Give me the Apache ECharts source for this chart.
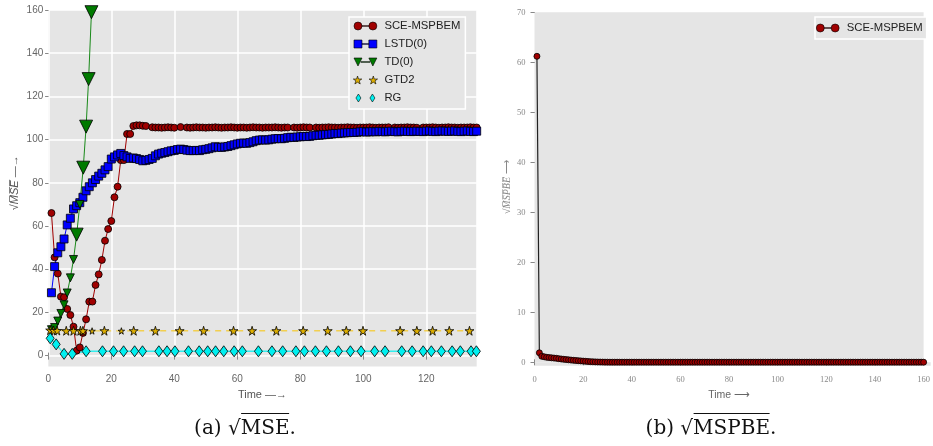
<!DOCTYPE html>
<html>
<head>
<meta charset="utf-8">
<script src="https://cdn.jsdelivr.net/npm/echarts@6/dist/echarts.min.js"></script>
<style>
html,body{margin:0;padding:0;background:#fff;}
#wrap{position:relative;width:933px;height:446px;overflow:hidden;}
#chart{width:933px;height:446px;}
.cap{position:absolute;top:415px;font-family:"DejaVu Serif",serif;font-size:20px;line-height:24px;color:#111;white-space:nowrap;transform:translateX(-50%);}
.ol{border-top:1px solid #111;padding-top:1px;}
</style>
</head>
<body>
<div id="wrap">
  <div id="chart"></div>
  <div class="cap" style="left:245px">(a) √<span class="ol">MSE</span>.</div>
  <div class="cap" style="left:711px">(b) √<span class="ol">MSPBE</span>.</div>
</div>
<script>
// left panel: sqrt(MSE) against time
var sceT = [1,2,3,4,5,6,7,8,9,10,11,12,13,14,15,16,17,18,19,20,21,22,23,24,25,26,27,28,29,30,31,
  33,34,35,36,37,38,39,40,42,44,45,46,47,48,49,50,51,52,53,54,55,56,57,58,59,60,61,62,63,64,65,66,67,68,69,70,
  71,72,73,74,75,76,78,79,80,81,82,83,85,86,87,88,89,90,91,92,93,94,95,96,97,98,99,100,101,102,103,104,105,106,107,108,
  110,111,112,113,114,115,116,117,119,120,121,122,123,124,125,126,127,128,129,130,131,132,133,134,135,136];
var sceV = [66,45.5,38,27.3,27,21.6,18.8,13.4,2.3,3.8,10.5,16.8,25,25,32.7,37.6,44.3,53.2,58.6,62.3,73.3,78.2,90.5,90.5,102.6,102.6,106.3,106.6,106.6,106.4,106.3,
  105.7,105.6,105.6,105.5,105.6,105.7,105.6,105.5,105.8,105.6,105.5,105.6,105.7,105.6,105.6,105.5,105.6,105.6,105.7,105.6,105.5,105.6,105.6,105.7,105.6,105.5,105.6,105.6,105.5,105.6,105.7,105.6,105.6,105.5,105.6,105.6,
  105.6,105.7,105.6,105.5,105.6,105.6,105.6,105.5,105.6,105.7,105.6,105.6,105.6,105.5,105.6,105.6,105.7,105.6,105.6,105.5,105.6,105.6,105.7,105.6,105.6,105.5,105.6,105.6,105.6,105.7,105.6,105.5,105.6,105.6,105.6,105.7,
  105.6,105.5,105.6,105.6,105.7,105.6,105.6,105.5,105.6,105.6,105.6,105.7,105.6,105.5,105.6,105.6,105.7,105.6,105.6,105.5,105.6,105.6,105.6,105.7,105.6,105.6];

// LSTD(0), one value per time step 1..136
var lstdV = [29.1,41.2,47.6,50.4,54.0,60.5,63.6,67.9,69.4,70.8,73.3,76.3,78.2,80.0,81.5,83.1,84.4,86.0,87.5,91.0,
  92.0,92.9,93.6,92.6,92.0,91.3,91.5,91.2,90.8,90.2,90.4,90.8,91.3,92.5,93.3,93.7,94.0,94.4,94.8,95.0,
  95.4,95.6,95.4,95.1,94.9,94.9,95.0,94.9,95.3,95.5,95.8,96.2,96.7,96.5,96.4,96.6,96.8,97.2,97.6,98.0,
  98.3,98.4,98.3,98.6,99.0,99.5,99.8,99.9,99.8,99.9,100.2,100.4,100.5,100.4,100.6,100.9,101.1,101.0,101.2,101.3,
  101.5,101.4,101.5,101.8,102.0,102.0,102.2,102.3,102.4,102.6,102.8,102.8,103.0,103.1,103.2,103.3,103.3,103.4,103.6,103.7,
  103.5,103.6,103.7,103.6,103.8,103.7,103.6,103.8,103.9,103.7,103.6,103.8,103.9,103.8,103.7,103.8,103.9,103.8,103.7,103.9,
  104.0,103.8,103.7,103.9,104.0,103.9,103.8,103.9,104.0,103.8,103.7,103.9,104.0,103.8,103.7,103.9];

var tdT = [1,2,3,4,5,6,7,8,9,10,11.1,12,12.8,13.7];
var tdV = [12,13,16,19.5,23.5,29,36,44.5,56,70,87,106,128,159];

var gtdT = [0.6,1.7,2.8,5.7,8,10.2,11,13.9,17.8,23.2,27.1,34,41.7,49.3,58.8,64.7,72.4,80.9,88.7,94.6,99.9,111.7,117,122,127.3,133.7];
var gtdV = [11.8,11.6,11.6,11.5,11.5,11.5,11.5,11.4,11.5,11.4,11.5,11.5,11.5,11.5,11.5,11.5,11.5,11.5,11.5,11.5,11.5,11.5,11.5,11.5,11.5,11.5];

var rgT = [0.6,2.5,5,7.6,12,17.2,20.7,23.9,27.4,29.9,35.1,37.7,40.2,44.5,47.9,50.6,53.1,55.7,59,61.6,66.7,71,74.4,78.6,81.3,84.8,
  88.3,92.1,95.9,99.3,103.6,106.9,112.2,115.5,119,121.6,124.8,128.2,130.8,134.2,135.9];
var rgV = [8,5.2,0.8,0.8,2,2,2,2,2,2,2,2,2,2,2,2,2,2,2,2,2,2,2,2,2,2,2,2,2,2,2,2,2,2,2,2,2,2,2,2,2];

// right panel: sqrt(MSPBE), one value per time step 1..160
var mspbeV = [61.2,1.9,1.2,1.1,1.0,0.95,0.9,0.85,0.8,0.72,0.66,0.6,0.55,0.5,0.45,0.4,0.36,0.32,0.28,0.24,
  0.2,0.16,0.13,0.1,0.08,0.06,0.05,0.04,0.03,0.03,
  0.02,0.02,0.02,0.02,0.02,0.02,0.02,0.02,0.02,0.02,
  0.02,0.02,0.02,0.02,0.02,0.02,0.02,0.02,0.02,0.02,
  0.02,0.02,0.02,0.02,0.02,0.02,0.02,0.02,0.02,0.02,
  0.02,0.02,0.02,0.02,0.02,0.02,0.02,0.02,0.02,0.02,
  0.02,0.02,0.02,0.02,0.02,0.02,0.02,0.02,0.02,0.02,
  0.02,0.02,0.02,0.02,0.02,0.02,0.02,0.02,0.02,0.02,
  0.02,0.02,0.02,0.02,0.02,0.02,0.02,0.02,0.02,0.02,
  0.02,0.02,0.02,0.02,0.02,0.02,0.02,0.02,0.02,0.02,
  0.02,0.02,0.02,0.02,0.02,0.02,0.02,0.02,0.02,0.02,
  0.02,0.02,0.02,0.02,0.02,0.02,0.02,0.02,0.02,0.02,
  0.02,0.02,0.02,0.02,0.02,0.02,0.02,0.02,0.02,0.02,
  0.02,0.02,0.02,0.02,0.02,0.02,0.02,0.02,0.02,0.02,
  0.02,0.02,0.02,0.02,0.02,0.02,0.02,0.02,0.02,0.02];

var xTicksL = {min:0, max:136, interval:20};
var yTicksL = {min:0, max:160, interval:20};
var xTicksR = {min:0, max:160, interval:20};
var yTicksR = {min:0, max:70, interval:10};

var GRAY = '#e5e5e5';
var starPath = 'path://M50,0L61,35L98,35L68,57L79,91L50,70L21,91L32,57L2,35L39,35Z';
var icons = {
  circ: 'path://M0,4A3.5,3.5,0,1,0,7,4A3.5,3.5,0,1,0,0,4ZM13,4A3.5,3.5,0,1,0,20,4A3.5,3.5,0,1,0,13,4ZM7,3.8H13V4.2H7Z',
  sq: 'path://M0,0.5H7V7.5H0ZM13,0.5H20V7.5H13ZM7,3.8H13V4.2H7Z',
  tri: 'path://M0,0.5H7L3.5,7.5ZM13,0.5H20L16.5,7.5ZM6,3.8H14V4.2H6Z',
  star: 'path://M3.5,0L4.3,2.5L7,2.5L4.9,4L5.7,6.6L3.5,5.1L1.3,6.6L2.1,4L0,2.5L2.7,2.5ZM16.5,0L17.3,2.5L20,2.5L17.9,4L18.7,6.6L16.5,5.1L14.3,6.6L15.1,4L13,2.5L15.7,2.5Z',
  dia: 'path://M3,0L5.5,4L3,8L0.5,4ZM17,0L19.5,4L17,8L14.5,4Z'
};
var legIcon = {borderWidth:0.6};

var gl = {left:48.3, top:10, width:428.4, height:345.6};
var gr = {left:534.5, top:12.3, width:396.2, height:350};

var sansLbl = {color:'#666', fontSize:10, fontFamily:'Liberation Sans'};
var serifLbl = {color:'#888', fontSize:8.5, fontFamily:'Liberation Serif'};
var tickL = {lineStyle:{color:'#888'}, length:3};

var myChart = echarts.init(document.getElementById('chart'));
var option = {
  animation: false,
  grid: [
    {left:gl.left, top:gl.top, width:gl.width, height:gl.height, show:true, backgroundColor:GRAY, borderWidth:0},
    {left:gr.left, top:gr.top, width:gr.width, height:gr.height, show:true, backgroundColor:GRAY, borderWidth:0}
  ],
  graphic: [
    {type:'rect', z:-10, silent:true, shape:{x:gl.left, y:gl.top + gl.height, width:gl.width, height:11}, style:{fill:GRAY}},
    {type:'rect', z:-10, silent:true, shape:{x:gr.left, y:gr.top + gr.height, width:gr.width, height:3.4}, style:{fill:GRAY}}
  ],
  legend: [
    {
      left:349, top:17, orient:'vertical', padding:[2,5,4,4], itemGap:4,
      itemWidth:28, itemHeight:8, backgroundColor:GRAY, borderColor:'#fff', borderWidth:1.5,
      textStyle:{fontFamily:'Liberation Sans', fontSize:11.3, color:'#222', lineHeight:14},
      selectedMode:false,
      data:[
        {name:'SCE-MSPBEM', icon:icons.circ, itemStyle:legIcon},
        {name:'LSTD(0)', icon:icons.sq, itemStyle:legIcon},
        {name:'TD(0)', icon:icons.tri, itemStyle:legIcon},
        {name:'GTD2', icon:icons.star, itemStyle:legIcon},
        {name:'RG', icon:icons.dia, itemStyle:legIcon}
      ]
    },
    {
      left:815, top:17, orient:'vertical', padding:[4,4,4,1],
      itemWidth:28, itemHeight:8, backgroundColor:GRAY, borderColor:'#fff', borderWidth:1.5,
      textStyle:{fontFamily:'Liberation Sans', fontSize:11.3, color:'#222', lineHeight:14},
      selectedMode:false,
      data:[{name:'SCE-MSPBEM', icon:icons.circ, itemStyle:legIcon}]
    }
  ],
  xAxis: [
    {gridIndex:0, type:'value', position:'bottom', offset:11, min:xTicksL.min, max:xTicksL.max, interval:xTicksL.interval,
      axisLine:{show:false}, axisTick:{show:true, length:4, lineStyle:{color:'#888'}},
      axisLabel:Object.assign({margin:8, showMaxLabel:false}, sansLbl),
      splitLine:{show:true, lineStyle:{color:'#fff', width:1.5}},
      name:'Time —→', nameLocation:'middle', nameGap:22,
      nameTextStyle:{color:'#555', fontSize:11, fontFamily:'Liberation Sans'}},
    {gridIndex:0, type:'value', position:'top', min:xTicksL.min, max:xTicksL.max, interval:xTicksL.interval,
      axisLine:{show:false}, axisTick:tickL, axisLabel:{show:false}, splitLine:{show:false}},
    {gridIndex:1, type:'value', position:'bottom', offset:3.4, min:xTicksR.min, max:xTicksR.max, interval:xTicksR.interval,
      axisLine:{show:false}, axisTick:{show:true, length:3, lineStyle:{color:'#888'}},
      axisLabel:Object.assign({margin:10}, serifLbl),
      splitLine:{show:false},
      name:'Time ⟶', nameLocation:'middle', nameGap:24,
      nameTextStyle:{color:'#666', fontSize:10.5, fontFamily:'Liberation Sans'}},
    {gridIndex:1, type:'value', position:'top', min:xTicksR.min, max:xTicksR.max, interval:xTicksR.interval,
      axisLine:{show:false}, axisTick:tickL, axisLabel:{show:false}, splitLine:{show:false}}
  ],
  yAxis: [
    {gridIndex:0, type:'value', min:yTicksL.min, max:yTicksL.max, interval:yTicksL.interval,
      axisLine:{show:false}, axisTick:{show:true, length:3, lineStyle:{color:'#888'}},
      axisLabel:Object.assign({margin:5}, sansLbl),
      splitLine:{show:true, lineStyle:{color:'#fff', width:1.5}},
      name:'√{i|M̅S̅E̅} —→', nameLocation:'middle', nameGap:28,
      nameTextStyle:{color:'#555', fontSize:11, fontFamily:'Liberation Sans',
        rich:{i:{fontStyle:'italic', color:'#555', fontSize:11, fontFamily:'Liberation Sans'}}}},
    {gridIndex:0, type:'value', position:'right', min:yTicksL.min, max:yTicksL.max, interval:yTicksL.interval,
      axisLine:{show:false}, axisTick:{show:true, inside:true, length:3, lineStyle:{color:'#888'}},
      axisLabel:{show:false}, splitLine:{show:false}},
    {gridIndex:1, type:'value', min:yTicksR.min, max:yTicksR.max, interval:yTicksR.interval,
      axisLine:{show:false}, axisTick:{show:true, length:4, lineStyle:{color:'#888'}},
      axisLabel:Object.assign({margin:9}, serifLbl),
      splitLine:{show:false},
      name:'{i|√M̅S̅P̅B̅E̅} ⟶', nameLocation:'middle', nameGap:22,
      nameTextStyle:{color:'#888', fontSize:10, fontFamily:'Liberation Serif',
        rich:{i:{fontStyle:'italic', color:'#888', fontSize:10, fontFamily:'Liberation Serif'}}}},
    {gridIndex:1, type:'value', position:'right', min:yTicksR.min, max:yTicksR.max, interval:yTicksR.interval,
      axisLine:{show:false}, axisTick:{show:true, inside:true, length:3, lineStyle:{color:'#888'}},
      axisLabel:{show:false}, splitLine:{show:false}}
  ],
  series: [
    {name:'SCE-MSPBEM', type:'line', xAxisIndex:0, yAxisIndex:0,
      data: sceT.map(function(t,i){return [t, sceV[i]];}),
      symbol:'circle', symbolSize:7, showAllSymbol:true,
      lineStyle:{color:'#a00000', width:1},
      itemStyle:{color:'#a00000', borderColor:'#000', borderWidth:0.8},
      emphasis:{disabled:true}},
    {name:'LSTD(0)', type:'line', xAxisIndex:0, yAxisIndex:0,
      data: lstdV.map(function(v,i){return [i+1, v];}),
      symbol:'rect', symbolSize:8, showAllSymbol:true,
      lineStyle:{color:'#0000ff', width:1},
      itemStyle:{color:'#0000ff', borderColor:'#000', borderWidth:0.8},
      emphasis:{disabled:true}},
    {name:'TD(0)', type:'line', xAxisIndex:0, yAxisIndex:0,
      data: tdT.map(function(t,i){return [t, tdV[i]];}),
      symbol:'triangle', symbolRotate:180, showAllSymbol:true,
      symbolSize:function(val, p){ return [8,10,11,12,13].indexOf(p.dataIndex) >= 0 ? 13 : 8; },
      lineStyle:{color:'#1a8a1a', width:1},
      itemStyle:{color:'#007a00', borderColor:'#000', borderWidth:0.8},
      emphasis:{disabled:true}},
    {name:'GTD2', type:'line', xAxisIndex:0, yAxisIndex:0,
      data: gtdT.map(function(t,i){return [t, gtdV[i]];}),
      symbol:starPath, showAllSymbol:true,
      symbolSize:function(val, p){ return (p.dataIndex === 7 || p.dataIndex === 9) ? 6.5 : 9; },
      lineStyle:{color:'#f2cf50', width:1.3, type:[6,5]},
      itemStyle:{color:'#e0b000', borderColor:'#000', borderWidth:0.8},
      emphasis:{disabled:true}},
    {name:'RG', type:'line', xAxisIndex:0, yAxisIndex:0,
      data: rgT.map(function(t,i){return [t, rgV[i]];}),
      symbol:'diamond', symbolSize:[8,11], showAllSymbol:true,
      lineStyle:{color:'#33eeee', width:1.5},
      itemStyle:{color:'#00f0f0', borderColor:'#000', borderWidth:0.8},
      emphasis:{disabled:true}},
    {name:'SCE-MSPBEM', type:'line', xAxisIndex:2, yAxisIndex:2,
      data: mspbeV.map(function(v,i){return [i+1, v];}),
      symbol:'circle', symbolSize:6, showAllSymbol:true,
      lineStyle:{color:'#222', width:1.2},
      itemStyle:{color:'#a00000', borderColor:'#000', borderWidth:0.8},
      emphasis:{disabled:true}}
  ]
};
myChart.setOption(option);
</script>
</body>
</html>
